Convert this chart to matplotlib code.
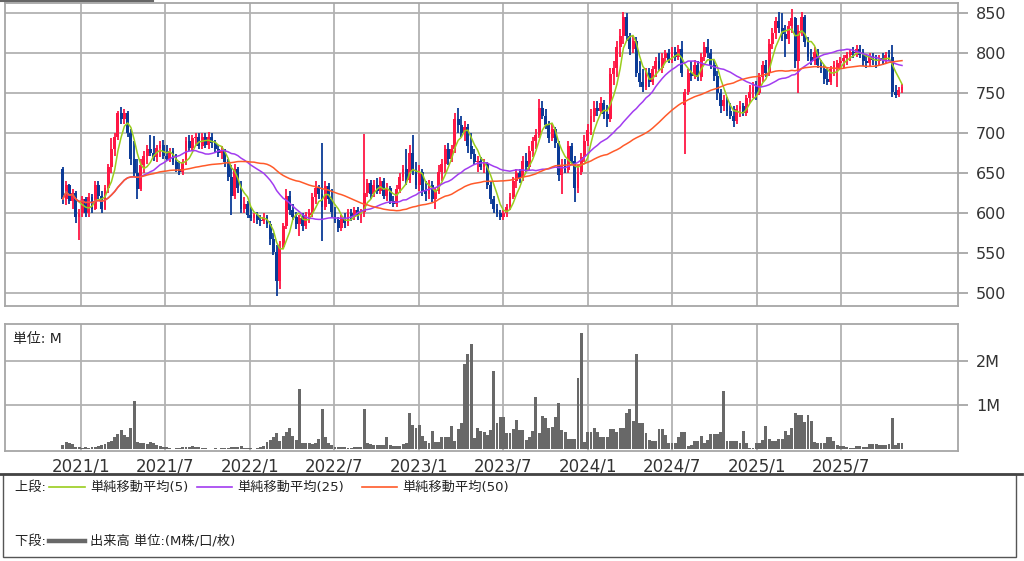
import matplotlib
matplotlib.use("Agg")
import matplotlib.pyplot as plt
import matplotlib.dates as mdates
from matplotlib.lines import Line2D
from matplotlib.patches import Rectangle
import numpy as np
import pandas as pd

plt.rcParams['font.family'] = ['DejaVu Sans', 'Noto Sans CJK JP']

# ---------------- data (weekly) ----------------
start_week = "2020-11-23"

opens = [655,618,635,615,626,595,600,618,600,620,606,636,622,606,632,658,680,696,725,718,
         726,700,668,650,630,660,672,680,676,670,682,686,672,668,678,664,656,652,664,690,
         682,694,696,684,695,686,696,688,680,676,678,664,646,622,655,632,606,612,598,594,
         598,592,590,596,586,568,552,515,558,584,622,604,596,586,594,584,598,600,620,632,
         624,608,634,618,602,592,582,594,588,600,596,604,598,602,625,638,624,636,628,640,
         622,632,616,612,630,646,656,642,676,654,636,652,628,624,636,618,628,652,662,680,
         668,680,718,710,700,708,684,674,664,666,658,662,636,618,606,600,596,600,608,620,
         640,650,644,666,658,678,690,698,732,722,710,694,706,688,648,660,654,684,666,632,
         652,670,690,704,722,732,728,738,724,718,774,782,808,822,846,822,806,816,776,764,
         758,776,764,780,790,782,794,800,792,802,796,806,735,752,776,772,786,770,796,808,
         800,786,772,750,734,742,728,722,716,730,734,726,744,752,758,750,770,786,776,812,
         826,840,832,824,818,834,844,790,828,846,814,796,790,802,786,780,768,764,780,780,
         788,790,794,798,802,800,806,798,790,788,796,792,790,794,792,798,796,752,748,754]

highs = [658,640,637,630,628,605,622,620,625,624,640,640,628,636,662,694,700,728,733,730,
         728,705,690,668,668,678,686,698,697,686,690,692,685,682,682,674,666,668,695,698,
         698,700,700,700,700,702,700,692,686,684,680,668,660,662,658,640,620,615,608,600,
         602,598,600,598,590,575,560,565,588,630,628,612,602,598,600,602,606,625,640,636,
         688,640,638,630,608,596,598,600,606,606,608,608,606,699,643,642,642,644,645,644,
         638,634,622,636,650,660,680,686,698,664,660,656,640,642,640,632,660,668,686,688,
         686,726,732,722,716,712,700,680,672,670,668,664,640,622,612,604,604,612,626,646,
         656,656,672,676,684,696,706,743,740,730,716,712,708,690,668,668,690,688,672,660,
         676,698,712,730,740,740,746,742,736,782,790,815,830,852,850,826,822,820,790,780,
         782,782,784,796,800,800,804,806,808,808,810,816,756,780,790,792,790,800,814,818,
         806,792,778,756,748,746,738,734,736,740,738,748,760,764,766,775,790,792,818,832,
         845,852,850,836,840,856,846,836,852,848,820,806,808,806,792,786,782,784,790,792,
         796,798,802,806,808,810,810,806,798,800,800,798,798,800,802,804,811,760,758,762]

lows = [612,610,612,605,588,567,596,596,596,600,604,618,600,604,625,650,672,692,712,712,
        695,660,645,618,628,650,662,672,665,664,670,668,666,664,660,652,648,648,660,678,
        678,684,680,680,682,680,682,675,670,668,658,640,598,618,625,600,600,594,590,588,
        586,584,586,582,560,548,496,505,555,580,598,592,580,572,578,580,588,596,612,618,
        565,604,612,596,588,576,578,582,584,590,592,592,588,596,620,618,620,624,624,618,
        616,612,608,608,626,640,636,638,648,630,628,622,616,618,614,606,624,640,650,660,
        664,676,700,695,690,676,668,660,652,654,650,630,612,600,596,592,592,596,604,618,
        632,638,640,652,654,670,680,694,718,706,688,690,682,640,624,650,650,660,614,626,
        648,664,684,698,714,722,724,718,708,714,760,770,796,812,816,798,800,770,758,752,
        754,758,760,770,778,776,788,788,788,790,792,770,674,748,766,768,766,766,790,794,
        780,766,742,726,728,722,718,708,712,720,722,722,738,744,742,748,764,770,772,806,
        818,826,816,795,812,826,782,751,822,808,790,786,786,782,776,762,760,760,772,758,
        780,782,786,790,794,796,794,784,782,784,786,782,784,786,788,790,746,744,745,750]

closes = [618,635,615,626,595,600,618,600,620,606,636,622,606,632,658,680,696,725,718,726,
          700,668,650,630,660,672,680,676,670,682,686,672,668,678,664,656,652,664,690,682,
          694,696,684,695,686,696,688,680,676,678,664,646,622,655,632,606,612,598,594,598,
          592,590,596,586,568,552,515,558,584,622,604,596,586,594,584,598,600,620,632,624,
          608,634,618,602,592,582,594,588,600,596,604,598,602,625,638,624,636,628,640,622,
          632,616,612,630,646,656,642,676,654,636,652,628,624,636,618,628,652,662,680,668,
          680,718,710,700,708,684,674,664,666,658,662,636,618,606,600,596,600,608,620,640,
          650,644,666,658,678,690,698,732,722,710,694,706,688,648,660,654,684,666,632,652,
          670,690,704,722,732,728,738,724,718,774,782,808,822,846,822,806,816,776,764,758,
          776,764,780,790,782,794,800,792,802,796,806,776,752,776,772,786,770,796,808,800,
          786,772,750,734,742,728,722,716,730,734,726,744,752,758,750,770,786,776,812,826,
          840,832,824,818,834,844,790,828,846,814,796,790,802,786,780,768,764,780,786,788,
          790,794,798,802,800,806,798,790,788,796,792,790,794,792,798,796,752,748,754,758]

volumes = [0.09,0.17,0.15,0.12,0.05,0.04,0.03,0.04,0.03,0.05,
           0.05,0.08,0.09,0.12,0.17,0.18,0.28,0.35,0.43,0.33,
           0.28,0.47,1.08,0.17,0.15,0.14,0.12,0.16,0.15,0.10,
           0.08,0.05,0.04,0.02,0.01,0.02,0.03,0.04,0.05,0.06,
           0.08,0.06,0.04,0.02,0.02,0.01,0.01,0.02,0.01,0.02,
           0.02,0.03,0.05,0.04,0.05,0.07,0.03,0.02,0.02,0.01,
           0.02,0.05,0.08,0.17,0.20,0.28,0.36,0.18,0.30,0.40,
           0.48,0.30,0.20,1.36,0.15,0.13,0.13,0.12,0.15,0.22,
           0.92,0.28,0.15,0.10,0.06,0.06,0.05,0.06,0.03,0.03,
           0.05,0.04,0.04,0.92,0.13,0.11,0.09,0.09,0.09,0.09,
           0.27,0.10,0.08,0.08,0.08,0.12,0.13,0.81,0.55,0.47,
           0.55,0.30,0.18,0.15,0.41,0.17,0.17,0.27,0.27,0.27,
           0.52,0.18,0.45,0.60,1.93,2.15,2.38,0.25,0.48,0.42,
           0.38,0.33,0.43,1.76,0.60,0.73,0.73,0.36,0.36,0.45,
           0.66,0.43,0.43,0.20,0.28,0.41,1.17,0.36,0.75,0.70,
           0.47,0.50,0.73,1.04,0.43,0.39,0.24,0.23,0.22,1.60,
           2.63,0.17,0.38,0.38,0.47,0.38,0.28,0.28,0.28,0.45,
           0.45,0.39,0.47,0.47,0.81,0.92,0.64,2.16,0.60,0.60,
           0.36,0.20,0.18,0.18,0.45,0.45,0.33,0.15,0.15,0.14,
           0.28,0.39,0.39,0.08,0.09,0.18,0.18,0.30,0.13,0.20,
           0.34,0.34,0.34,0.38,1.32,0.18,0.18,0.18,0.18,0.13,
           0.42,0.13,0.03,0.03,0.15,0.15,0.20,0.53,0.22,0.18,
           0.18,0.24,0.24,0.41,0.32,0.48,0.81,0.77,0.77,0.62,
           0.77,0.64,0.17,0.13,0.13,0.13,0.27,0.27,0.18,0.10,
           0.08,0.08,0.05,0.03,0.03,0.08,0.08,0.05,0.05,0.11,
           0.11,0.11,0.09,0.09,0.09,0.11,0.70,0.09,0.13,0.13]

price_ticks = [500, 550, 600, 650, 700, 750, 800, 850]
vol_ticks = [1, 2]
vol_tick_labels = ["1M", "2M"]
grid_dates = ["2021-01-01", "2021-07-01", "2022-01-01", "2022-07-01", "2023-01-01",
              "2023-07-01", "2024-01-01", "2024-07-01", "2025-01-01", "2025-07-01"]
grid_labels = ["2021/1", "2021/7", "2022/1", "2022/7", "2023/1",
               "2023/7", "2024/1", "2024/7", "2025/1", "2025/7"]
ma_periods = [5, 25, 50]
ma_colors = ["#9acd1e", "#a23cf0", "#ff5a2a"]
ma_labels = ["単純移動平均(5)", "単純移動平均(25)", "単純移動平均(50)"]

# ---------------- build ----------------
dates = pd.date_range(start_week, periods=len(closes), freq="7D")
df = pd.DataFrame({"o": opens, "h": highs, "l": lows, "c": closes, "v": volumes}, index=dates)
xd = mdates.date2num(dates.to_pydatetime())

W, H = 1024, 561
fig = plt.figure(figsize=(W / 100, H / 100), dpi=100)

def rect(x0, y0, x1, y1):
    return [x0 / W, 1 - y1 / H, (x1 - x0) / W, (y1 - y0) / H]

ax = fig.add_axes(rect(5, 3, 958, 305.5))
axv = fig.add_axes(rect(5, 323.5, 958, 451))

grid_col = "#b2b2b2"
spine_col = "#a6a6a6"
xlim = (mdates.datestr2num("2020-07-21"), mdates.datestr2num("2026-03-11"))
gx = [mdates.datestr2num(d) for d in grid_dates]

for a in (ax, axv):
    a.set_xlim(*xlim)
    for s in a.spines.values():
        s.set_color(spine_col)
        s.set_linewidth(1.3)
    a.set_xticks(gx)
    a.grid(True, color=grid_col, lw=1.3)
    a.set_axisbelow(True)
    a.yaxis.tick_right()
    a.tick_params(axis="y", length=7, width=1.3, color=spine_col, labelsize=11.5,
                  labelcolor="#333333", pad=6)
    a.tick_params(axis="x", length=0)

# candles
up = df["c"] >= df["o"]
col = np.where(up, "#ff1744", "#0b3a96")
ax.vlines(xd, df["l"], df["h"], colors=col, lw=1.3, zorder=3)
body_bottom = np.minimum(df["o"], df["c"])
body_h = np.maximum(np.abs(df["c"] - df["o"]), 0.8)
ax.bar(xd, body_h, bottom=body_bottom, width=6.2, color=col, lw=0, zorder=3)

# moving averages
for p, c in zip(ma_periods, ma_colors):
    ma = df["c"].rolling(p, min_periods=1).mean()
    ax.plot(xd, ma, color=c, lw=1.1, zorder=4)

ax.set_ylim(484.7, 863)
ax.set_yticks(price_ticks)
ax.set_xticklabels([])

# volume
axv.bar(xd, df["v"], width=6.3, color="#686868", lw=0, zorder=3)
axv.set_ylim(-0.04, 2.84)
axv.set_yticks(vol_ticks)
axv.set_yticklabels(vol_tick_labels)
axv.set_xticklabels(grid_labels)
axv.tick_params(axis="x", labelsize=12, labelcolor="#333333", pad=5)
axv.text(0.008, 0.93, "単位: M", transform=axv.transAxes, fontsize=10,
         color="#222222", va="top", ha="left")

# ---------------- legend area ----------------
def fx(x):
    return x / W

def fy(y):
    return 1 - y / H

fig.add_artist(Line2D([fx(0), fx(153)], [fy(0.8), fy(0.8)], color="#666666", lw=1.5))
fig.add_artist(Rectangle((fx(3), fy(557)), fx(1016) - fx(3), fy(474) - fy(557),
                         fill=False, ec="#555555", lw=1.0))
fig.add_artist(Line2D([fx(0), fx(1022)], [fy(473.5), fy(473.5)], color="#444444", lw=2.0))

row1, row2 = 487, 541
fig.text(fx(15), fy(row1), "上段: ", fontsize=9.5, va="center", ha="left", color="#222222")
legend_x = [(49, 85, 90), (197, 232, 237), (362, 397, 402)]
for (x0, x1, tx), c, lab in zip(legend_x, ma_colors, ma_labels):
    fig.add_artist(Line2D([fx(x0), fx(x1)], [fy(row1), fy(row1)], color=c, lw=1.2))
    fig.text(fx(tx), fy(row1), lab, fontsize=9.5, va="center", ha="left", color="#222222")

fig.text(fx(15), fy(row2), "下段: ", fontsize=9.5, va="center", ha="left", color="#222222")
fig.add_artist(Line2D([fx(49), fx(85)], [fy(row2), fy(row2)], color="#686868", lw=3.2))
fig.text(fx(90), fy(row2), "出来高 単位:(M株/口/枚)", fontsize=9.5, va="center", ha="left",
         color="#222222")

fig.savefig("out.png", dpi=100)
